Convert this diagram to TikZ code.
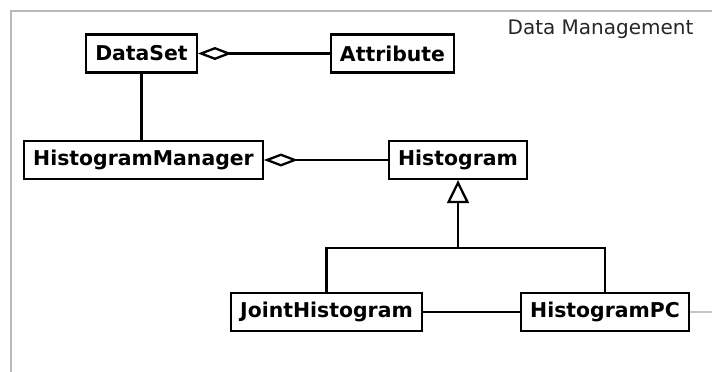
\documentclass[tikz,border=0pt]{standalone}
\usepackage{fontspec}
\setmainfont{DejaVu Sans}
\usetikzlibrary{arrows.meta}

\begin{document}
\begin{tikzpicture}[x=1pt, y=-1pt]
\tikzset{ classbox/.style={draw, line width=2.3pt, fill=white, font=\fontsize{20.4}{24}\selectfont\bfseries,
                           inner xsep=9pt, inner ysep=0pt, minimum height=38pt},
          link/.style={line width=2.3pt},
          agg/.style={link, {Diamond[open, length=34pt, width=13pt]}-},
          gen/.style={link, -{Triangle[open, length=23pt, width=22pt]}},
        }

\useasboundingbox (0,0) rectangle (712,372);

%\draw [lightgray, dashed](0,0) grid[step=50] (712,372);

% frame of the package
\draw [line width=2pt, gray!55] (11,372) -- (11,11) -- (712,11);
\node [anchor=base east, font=\fontsize{20}{24}\selectfont, text=black!85] (pkg) at (697,34) {Data Management};

\node [classbox] (DS)   at (141.5,53.5) {DataSet};
\node [classbox] (Attr) at (392.5,53.5) {Attribute};
\node [classbox] (HM)   at (143.5,160)  {HistogramManager};
\node [classbox] (H)    at (458,160)    {Histogram};
\node [classbox] (JH)   at (326.5,312)  {JointHistogram};
\node [classbox] (HPC)  at (605,312)    {HistogramPC};

\coordinate (branch) at (458,248);
\coordinate (out) at (712,312);

\draw [agg] (DS) -- (Attr);
\draw [link] (DS) -- (DS |- HM.north);
\draw [agg] (HM) -- (H);

\draw [link] (JH.north) |- (branch) -| (HPC.north);
\draw [gen] (branch) -- (H);

\draw [link] (JH) -- (HPC);
\draw [line width=2pt, gray!45] (HPC) -- (out);
\end{tikzpicture}
\end{document}
